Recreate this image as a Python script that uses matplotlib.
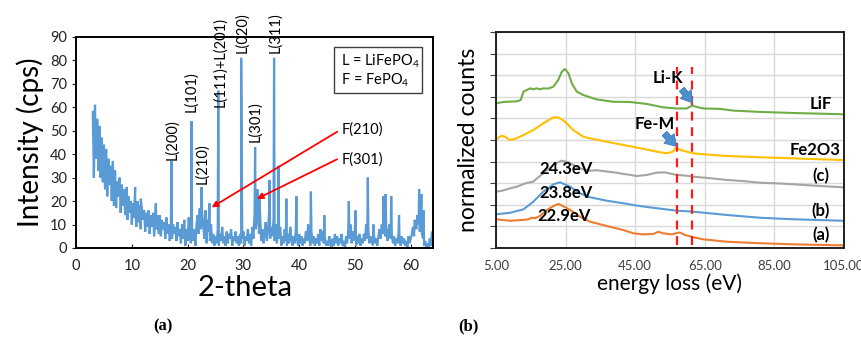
import numpy as np
import matplotlib
matplotlib.use("Agg")
import matplotlib.pyplot as plt
from matplotlib.patches import Rectangle

plt.rcParams['font.family'] = ['Lato', 'DejaVu Sans']
plt.rcParams['mathtext.fontset'] = 'custom'
plt.rcParams['mathtext.rm'] = 'Lato'
plt.rcParams['mathtext.it'] = 'Lato:italic'

# ---------------- (a) XRD pattern ----------------
xrd_start, xrd_step = 3.0, 0.2
xrd_base = [
    58, 30, 61, 38, 55, 33, 52, 30, 47, 28,
    44, 25, 42, 22, 38, 27, 35, 20, 37, 18,
    33, 17, 28, 22, 30, 15, 27, 18, 25, 14,
    24, 12, 22, 15, 20, 10, 19, 13, 18, 9,
    20, 11, 18, 8, 17, 12, 16, 7, 15, 9,
    16, 6, 14, 9, 15, 5, 13, 8, 14, 6,
    14, 5, 12, 8, 11, 4, 13, 6, 10, 3,
    9, 4, 10, 6, 9, 3, 11, 5, 8, 2,
    10, 4, 12, 1, 8, 3, 13, 5, 2, 9,
    3, 8, 1, 10, 14, 6, 17, 8, 15, 10,
    4, 16, 2, 12, 7, 3, 10, 2, 6, 1,
    5, 2, 8, 1, 6, 3, 9, 2, 5, 1,
    7, 2, 6, 4, 8, 1, 5, 3, 7, 2,
    5, 1, 6, 2, 4, 7, 1, 5, 3, 8,
    2, 6, 1, 9, 4, 15, 8, 12, 18, 6,
    14, 3, 8, 2, 6, 11, 3, 7, 15, 4,
    9, 5, 12, 3, 10, 2, 7, 4, 9, 1,
    5, 2, 8, 3, 1, 6, 2, 9, 4, 1,
    5, 2, 8, 4, 1, 6, 2, 5, 1, 4,
    2, 7, 3, 10, 4, 1, 7, 2, 5, 1,
    4, 2, 6, 1, 8, 3, 7, 2, 5, 1,
    3, 1, 5, 2, 0, 4, 1, 6, 2, 5,
    1, 4, 2, 6, 1, 3, 0, 5, 2, 8,
    4, 10, 2, 7, 3, 9, 1, 5, 2, 6,
    1, 4, 2, 6, 3, 10, 4, 8, 2, 5,
    3, 1, 6, 2, 4, 1, 5, 8, 4, 10,
    6, 12, 5, 9, 3, 7, 10, 4, 6, 2,
    5, 1, 4, 2, 6, 3, 1, 5, 2, 4,
    1, 3, 0, 5, 2, 4, 6, 9, 5, 11,
    8, 14, 10, 7, 12, 6, 4, 1, 3, 0,
    2, 0, 4, 1, 7, 6,
]
peak_pos = [7.3, 9.1, 10.6, 11.6, 14.3, 17.1, 20.7, 22.1, 22.5, 23.3, 23.9, 25.5,
            29.6, 32.1, 32.5, 32.9, 34.7, 35.5, 36.3, 37.7, 39.5, 42.1, 44.5,
            48.9, 50.1, 52.3, 53.3, 55.1, 55.5, 56.5, 57.9, 60.7, 61.5, 61.9, 62.3]
peak_int = [28, 26, 26, 21, 19, 37, 54, 16, 26, 14, 19, 67,
            81, 43, 25, 21, 29, 81, 35, 21, 22, 24, 14,
            20, 16, 30, 10, 22, 23, 22, 14, 12, 25, 23, 16]

peak_labels = ['L(200)', 'L(101)', 'L(210)', 'L(111)+L(201)', 'L(020)', 'L(301)', 'L(311)']
label_x = [17.2, 20.7, 22.6, 25.8, 29.7, 32.2, 35.7]
label_y = [37.5, 58, 27.3, 60, 83, 45.3, 83]

# ---------------- (b) EELS spectra ----------------
lif_x = [5, 7.1, 10.9, 12.1, 12.9, 13.8, 14.8, 15.7, 16.7, 17.6, 18.6, 20.0, 21.5, 22.9,
         23.9, 24.8, 25.8, 26.8, 28.2, 30.1, 33.9, 38.7, 43.5, 48.3, 53.1, 56.9, 59.8,
         61.4, 63.1, 64.6, 69.4, 73.2, 80.9, 90.4, 105]
lif_y = [6.70, 6.76, 6.79, 6.85, 7.24, 7.31, 7.39, 7.35, 7.39, 7.35, 7.39, 7.38, 7.47, 7.78,
         8.16, 8.29, 8.09, 7.62, 7.24, 7.08, 6.88, 6.77, 6.76, 6.67, 6.51, 6.46, 6.46,
         6.59, 6.51, 6.46, 6.44, 6.36, 6.30, 6.25, 6.19]
fe_x = [5, 6.6, 7.6, 9.0, 10.5, 12.9, 15.7, 18.6, 21.5, 22.9, 24.8, 27.2, 30.1, 32.0,
        36.8, 41.6, 46.4, 51.2, 54.1, 55.8, 56.9, 57.9, 61.7, 64.6, 71.3, 80.9, 90.4, 105]
fe_y = [5.03, 5.20, 5.15, 5.00, 5.05, 5.23, 5.46, 5.77, 6.05, 6.05, 5.85, 5.46, 5.15, 5.08,
        4.92, 4.77, 4.62, 4.46, 4.38, 4.46, 4.66, 4.54, 4.38, 4.34, 4.26, 4.20, 4.15, 4.07]
c_x = [5, 7, 9, 11, 12.9, 14, 15.7, 17, 18.6, 20, 21.5, 23, 23.9, 25.8, 28.2, 30, 32.0, 34,
       36.8, 39, 41.6, 43, 45.4, 48.3, 51.2, 53.6, 56.9, 59, 61.7, 66, 71.3, 76, 80.9,
       86, 90.4, 97, 105]
c_y = [2.61, 2.66, 2.76, 2.84, 2.96, 3.02, 3.07, 3.25, 3.46, 3.66, 3.84, 3.98, 4.04, 3.97,
       3.76, 3.64, 3.58, 3.60, 3.54, 3.50, 3.43, 3.40, 3.33, 3.38, 3.49, 3.50, 3.38, 3.36,
       3.30, 3.24, 3.15, 3.10, 3.02, 2.99, 2.95, 2.88, 2.81]
b_x = [5, 9, 12.9, 15.7, 18.6, 21.5, 23.4, 26.3, 29.1, 32.0, 36.8, 41.6, 46.4, 51.2,
       56.9, 61.7, 71.3, 80.9, 90.4, 105]
b_y = [1.56, 1.63, 1.79, 2.14, 2.61, 2.95, 3.04, 2.84, 2.53, 2.35, 2.19, 2.07, 1.94, 1.84,
       1.73, 1.68, 1.53, 1.40, 1.33, 1.26]
a_x = [5, 9, 12.9, 14.3, 15.3, 16.2, 17.6, 19.6, 21.5, 22.9, 24.3, 26.3, 29.1, 32.0, 36.8,
       41.6, 44.5, 47.3, 50.2, 51.6, 53.1, 55.5, 57.4, 57.9, 59.3, 61.7, 64.6, 71.3, 80.9,
       90.4, 105]
a_y = [1.33, 1.26, 1.30, 1.33, 1.40, 1.38, 1.48, 1.76, 1.94, 2.04, 1.94, 1.76, 1.45, 1.22,
       1.02, 0.83, 0.68, 0.63, 0.65, 0.75, 0.68, 0.63, 0.71, 0.71, 0.60, 0.50, 0.40, 0.29,
       0.22, 0.17, 0.12]
edge_x = [57.1, 61.4]

fig = plt.figure(figsize=(8.62, 3.37), dpi=100)

# ---- left panel
ax1 = fig.add_axes([0.0882, 0.2641, 0.4142, 0.627])
xb = xrd_start + xrd_step * np.arange(len(xrd_base))
xall = np.concatenate([xb, peak_pos])
yall = np.concatenate([xrd_base, peak_int])
order = np.argsort(xall, kind='stable')
ax1.plot(xall[order], yall[order], color='#5B9BD5', lw=1.6, solid_joinstyle='miter')
ax1.set_xlim(0, 64)
ax1.set_ylim(0, 90)
ax1.set_xticks(range(0, 61, 10))
ax1.set_yticks(range(0, 91, 10))
ax1.tick_params(axis='x', direction='in', length=3, labelsize=10.5, pad=8, colors='#222222')
ax1.tick_params(axis='y', direction='out', length=3, labelsize=10.5, colors='#222222')
for s in ax1.spines.values():
    s.set_linewidth(1.4)
ax1.set_xlabel('2-theta', fontsize=21)
ax1.xaxis.set_label_coords(0.473, -0.13)
ax1.set_ylabel('Intensity (cps)', fontsize=20, labelpad=4)

for lab, lx, ly in zip(peak_labels, label_x, label_y):
    ax1.text(lx, ly, lab, rotation=90, ha='center', va='bottom', fontsize=10.5, clip_on=False)

ax1.add_patch(Rectangle((46.3, 66.1), 15.7, 19.6, fill=False, ec='#404040', lw=1.0))
ax1.text(47.5, 79.4, 'L = LiFePO$_4$', fontsize=10.5, va='center')
ax1.text(47.5, 71.3, 'F = FePO$_4$', fontsize=10.5, va='center')

ax1.text(47.6, 50.3, 'F(210)', fontsize=10.5, va='center')
ax1.text(47.6, 37.8, 'F(301)', fontsize=10.5, va='center')
ax1.annotate('', xy=(24.3, 17.3), xytext=(46.8, 49.5),
             arrowprops=dict(arrowstyle='-|>', color='red', lw=1.3, mutation_scale=9, shrinkA=0, shrinkB=0))
ax1.annotate('', xy=(32.4, 20.9), xytext=(46.8, 37.8),
             arrowprops=dict(arrowstyle='-|>', color='red', lw=1.3, mutation_scale=9, shrinkA=0, shrinkB=0))

# ---- right panel
ax2 = fig.add_axes([0.5754, 0.2641, 0.4037, 0.641])
ax2.set_xlim(5, 105)
ax2.set_ylim(0, 10)
ax2.set_xticks(range(5, 106, 20))
ax2.set_xticklabels(['%.2f' % v for v in range(5, 106, 20)])
ax2.set_yticks(range(0, 11))
ax2.set_yticklabels([])
ax2.grid(True, color='#D9D9D9', lw=1.0)
ax2.set_axisbelow(True)
ax2.tick_params(axis='x', length=0, labelsize=9.5, pad=9, colors='#404040')
ax2.tick_params(axis='y', direction='out', length=4, color='#404040')
for s in ax2.spines.values():
    s.set_linewidth(1.4)
    s.set_color('#202020')

ax2.plot(a_x, a_y, color='#ED7D31', lw=1.5)
ax2.plot(b_x, b_y, color='#5B9BD5', lw=1.5)
ax2.plot(c_x, c_y, color='#A5A5A5', lw=1.5)
ax2.plot(fe_x, fe_y, color='#FFC000', lw=1.5)
ax2.plot(lif_x, lif_y, color='#70AD47', lw=1.5)
for ex in edge_x:
    ax2.plot([ex, ex], [0.15, 8.4], color='#FF1A1A', lw=1.6, dashes=(4, 3))

arrow_kw = dict(arrowstyle='simple,head_width=1.0,head_length=0.8,tail_width=0.45',
                fc='#4F8FCF', ec='#3C78B4', lw=0.6, shrinkA=0, shrinkB=0)
ax2.annotate('', xy=(61.5, 6.72), xytext=(58.4, 7.35), arrowprops=arrow_kw)
ax2.annotate('', xy=(56.9, 4.70), xytext=(53.4, 5.30), arrowprops=arrow_kw)

bold = dict(fontsize=12, fontweight='bold', ha='center', va='center')
ax2.text(54.4, 7.87, 'Li-K', **bold)
ax2.text(50.7, 5.74, 'Fe-M', **bold)
ax2.text(98.2, 6.67, 'LiF', **bold)
ax2.text(96.8, 4.53, 'Fe2O3', **bold)
ax2.text(98.4, 3.33, '(c)', **bold)
ax2.text(98.4, 1.71, '(b)', **bold)
ax2.text(98.4, 0.60, '(a)', **bold)
ax2.text(25.2, 3.66, '24.3eV', **bold)
ax2.text(25.0, 2.56, '23.8eV', **bold)
ax2.text(24.6, 1.50, '22.9eV', **bold)
ax2.set_xlabel('energy loss (eV)', fontsize=15, labelpad=1)
ax2.set_ylabel('normalized counts', fontsize=16.5, labelpad=5)

fig.text(0.189, 0.008, '(a)', family='Liberation Serif', fontweight='bold', fontsize=12, ha='center', va='bottom')
fig.text(0.543, 0.008, '(b)', family='Liberation Serif', fontweight='bold', fontsize=12, ha='center', va='bottom')

fig.savefig('out.png', dpi=100)
